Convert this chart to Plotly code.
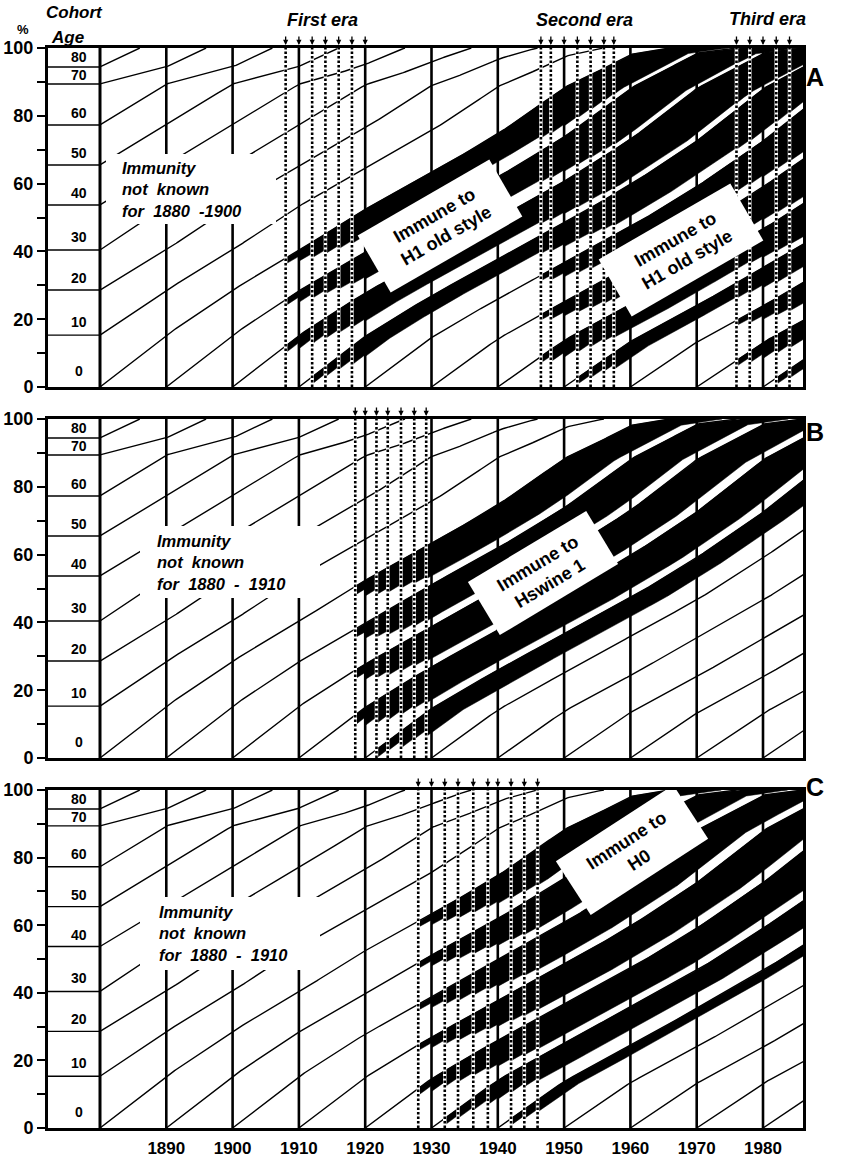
import numpy as np
import plotly.graph_objects as go

W, H = 857, 1160
LEFT_PX, RIGHT_PX = 48, 803
PANEL_TOP_PX = [48, 419, 790]
PANEL_BOTTOM_PX = [387, 758, 1128]
PX_PER_YEAR = 6.63
X0 = 1880 - (100 - LEFT_PX) / PX_PER_YEAR
X1 = 1880 + (RIGHT_PX - 100) / PX_PER_YEAR

FONT = "Liberation Sans, Arial, Helvetica, sans-serif"
NARROW = "Liberation Sans Narrow, Liberation Sans, Arial, sans-serif"

# ---------------- data ----------------
# cumulative % of the population younger than each age (early and late age structure)
AGES = [0, 10, 20, 30, 40, 50, 60, 70, 80, 86, 100]
CUM_PCT_EARLY = [0, 15.3, 28.6, 40.4, 53.7, 65.5, 77.3, 89.4, 94.4, 100, 100]
CUM_PCT_LATE = [0, 13.2, 23.8, 35.4, 46.5, 59.0, 72.5, 88.0, 98.5, 100, 100]
SHIFT_START, SHIFT_END = 1900, 1975
AGE_LABELS = ["0", "10", "20", "30", "40", "50", "60", "70", "80"]

COHORT_BIRTHS = list(range(1790, 1990, 10))
DECADE_LINES = list(range(1890, 1990, 10))
X_TICK_YEARS = list(range(1890, 1990, 10))

# epidemic years (arrows / dotted lines)
EPI_A_FIRST = [1908, 1910, 1912, 1914, 1916, 1918, 1920]
EPI_A_SECOND = [1946.5, 1948, 1950, 1952, 1954, 1956, 1957.5]
EPI_A_THIRD = [1976, 1978, 1980, 1982, 1984]
EPI_B = [1918.5, 1920, 1921.7, 1923.4, 1925.4, 1927.4, 1929.2]
EPI_C = [1928, 1930, 1932, 1934, 1936.3, 1938.5, 1940, 1942, 1944, 1946]

# fraction of a cohort made immune by each epidemic it lives through
IMMUNE_STEP_A = 0.14
IMMUNE_STEP_B = 0.20
IMMUNE_STEP_C = 0.14
FIRST_IMMUNE_COHORT = 1880


def cum_pct(t, age):
    t = np.asarray(t, float)
    a = np.clip(np.asarray(age, float), 0, 100)
    s = np.clip((t - SHIFT_START) / (SHIFT_END - SHIFT_START), 0, 1)
    w = s * s * (3 - 2 * s)
    return (1 - w) * np.interp(a, AGES, CUM_PCT_EARLY) + w * np.interp(a, AGES, CUM_PCT_LATE)


def cohort_lines():
    xs, ys = [], []
    for c in COHORT_BIRTHS:
        t = np.arange(max(c, 1880), X1 + 0.25, 0.25)
        y = cum_pct(t, t - c)
        if y[0] >= 100:
            continue
        hit = np.nonzero(y >= 100)[0]
        if len(hit):
            t, y = t[: hit[0] + 1], np.minimum(y[: hit[0] + 1], 100)
        xs += list(t) + [None]
        ys += list(y) + [None]
    # age bands of the 1880 population in the left column
    for v in CUM_PCT_EARLY[1:9]:
        xs += [X0, 1880, None]
        ys += [v, v, None]
    return xs, ys


def immune_polygons(epis, q, t_end):
    E = np.sort(np.asarray(epis, float))
    tg = np.concatenate([np.arange(E[0], t_end, 0.1), E, E - 1e-3, [t_end]])
    tg = np.unique(tg[(tg >= E[0]) & (tg <= t_end)])
    xs, ys = [], []
    for c in range(FIRST_IMMUNE_COHORT, int(E.max()) + 1, 10):
        up, lo = [], []

        def flush():
            if len(up) > 1:
                pts = up + lo[::-1]
                xs.extend([p[0] for p in pts] + [pts[0][0], None])
                ys.extend([p[1] for p in pts] + [pts[0][1], None])
            up.clear()
            lo.clear()

        for t in tg:
            bmax = min(c + 10.0, t)
            if bmax <= c:
                flush()
                continue
            b = np.linspace(c, bmax, 300)
            n = ((E[None, :] >= b[:, None]) & (E[None, :] <= t)).sum(1)
            p = 1 - (1 - q) ** n
            ok = (b - c) <= 10 * p
            bad = np.nonzero(~ok)[0]
            k = bad[0] - 1 if len(bad) else len(b) - 1
            if k < 1:
                flush()
                continue
            bs = b[k]
            yu = float(cum_pct(t, t - c))
            yl = float(cum_pct(t, t - bs))
            if yl >= 100:
                flush()
                continue
            up.append((t, min(yu, 100)))
            lo.append((t, yl))
        flush()
    return xs, ys


panels = [
    dict(name="A", epis=EPI_A_FIRST + EPI_A_SECOND + EPI_A_THIRD, q=IMMUNE_STEP_A),
    dict(name="B", epis=EPI_B, q=IMMUNE_STEP_B),
    dict(name="C", epis=EPI_C, q=IMMUNE_STEP_C),
]

fig = go.Figure()
shapes, annotations = [], []
layout = {}

for i, pn in enumerate(panels):
    ax = "" if i == 0 else str(i + 1)
    xref, yref = "x" + ax, "y" + ax
    top, bot = PANEL_TOP_PX[i], PANEL_BOTTOM_PX[i]

    cx, cy = cohort_lines()
    fig.add_trace(go.Scatter(x=cx, y=cy, mode="lines", line=dict(color="black", width=1.4),
                             xaxis=xref, yaxis=yref, hoverinfo="skip", showlegend=False))
    bx, by = immune_polygons(pn["epis"], pn["q"], X1)
    fig.add_trace(go.Scatter(x=bx, y=by, mode="lines", fill="toself", fillcolor="black",
                             line=dict(color="black", width=0.5),
                             xaxis=xref, yaxis=yref, hoverinfo="skip", showlegend=False))

    # decade grid lines
    shapes.append(dict(type="line", xref=xref, yref=yref, x0=1880, x1=1880, y0=0, y1=100,
                       line=dict(color="black", width=3)))
    for d in DECADE_LINES:
        shapes.append(dict(type="line", xref=xref, yref=yref, x0=d, x1=d, y0=0, y1=100,
                           line=dict(color="black", width=2.6)))
    # epidemic years: dotted lines and arrows
    for e in pn["epis"]:
        if min(abs(e - d) for d in DECADE_LINES) > 0.3:
            shapes.append(dict(type="line", xref=xref, yref=yref, x0=e, x1=e, y0=0, y1=100,
                               line=dict(color="white", width=3.5)))
            shapes.append(dict(type="line", xref=xref, yref=yref, x0=e, x1=e, y0=0, y1=100,
                               line=dict(color="black", width=2.6, dash="2.5px,2px")))
        annotations.append(dict(x=e, y=100, xref=xref, yref=yref, text="", showarrow=True,
                                ax=0, ay=-13, standoff=3, arrowhead=2, arrowsize=0.8,
                                arrowwidth=1.3, arrowcolor="black"))

    # age labels in the left column
    edges = CUM_PCT_EARLY[:9] + [100]
    for k, lab in enumerate(AGE_LABELS):
        lo_, hi_ = edges[k], edges[k + 1]
        h = hi_ - lo_
        yy = lo_ + (0.5 * h if h < 7 else 0.3 * h)
        annotations.append(dict(x=1876.8, y=yy, xref=xref, yref=yref, text=lab, showarrow=False,
                                font=dict(family=FONT, size=14, color="black", weight=700)))

    # panel letter
    annotations.append(dict(x=826 / W, y=1 - (top + 13) / H, xref="paper", yref="paper",
                            text=pn["name"], showarrow=False,
                            font=dict(family=FONT, size=25, color="black", weight=700)))

    layout["xaxis" + ax] = dict(domain=[LEFT_PX / W, RIGHT_PX / W], range=[X0, X1],
                                showgrid=False, zeroline=False, showline=True, linewidth=3,
                                linecolor="black", mirror=True, automargin=False,
                                ticks="outside" if i == 2 else "", ticklen=3,
                                tickcolor="rgba(0,0,0,0)",
                                tickvals=X_TICK_YEARS if i == 2 else [],
                                ticktext=[str(v) for v in X_TICK_YEARS] if i == 2 else [],
                                tickfont=dict(family=NARROW, size=17, color="black", weight=700),
                                anchor="y" + ax, fixedrange=True)
    layout["yaxis" + ax] = dict(domain=[1 - bot / H, 1 - top / H], range=[0, 100],
                                showgrid=False, zeroline=False, showline=True, linewidth=3,
                                linecolor="black", mirror=True, ticks="outside", ticklen=8,
                                tickwidth=2, tickcolor="black", automargin=False,
                                tickvals=list(range(0, 101, 10)),
                                ticktext=[str(v) if v % 20 == 0 else "" for v in range(0, 101, 10)],
                                tickfont=dict(family=FONT, size=18, color="black", weight=700),
                                anchor="x" + ax, fixedrange=True)


def px_to_data(i, px, py):
    top, bot = PANEL_TOP_PX[i], PANEL_BOTTOM_PX[i]
    return 1880 + (px - 100) / PX_PER_YEAR, (bot - py) / (bot - top) * 100


def box(i, x_a, y_a, x_b, y_b):
    ax = "" if i == 0 else str(i + 1)
    X_a, Y_a = px_to_data(i, x_a, y_a)
    X_b, Y_b = px_to_data(i, x_b, y_b)
    shapes.append(dict(type="rect", xref="x" + ax, yref="y" + ax, x0=X_a, x1=X_b, y0=Y_b, y1=Y_a,
                       fillcolor="white", line=dict(width=0), layer="above"))


def rotated_box(i, cxp, cyp, w, h, ang, text, size=18):
    ax = "" if i == 0 else str(i + 1)
    th = np.radians(ang)
    u = np.array([np.cos(th), -np.sin(th)])
    v = np.array([np.sin(th), np.cos(th)])
    c = np.array([cxp, cyp])
    corners = [c - u * w / 2 - v * h / 2, c + u * w / 2 - v * h / 2,
               c + u * w / 2 + v * h / 2, c - u * w / 2 + v * h / 2]
    pts = [px_to_data(i, p[0], p[1]) for p in corners]
    path = "M " + " L ".join(f"{x:.4f},{y:.4f}" for x, y in pts) + " Z"
    shapes.append(dict(type="path", xref="x" + ax, yref="y" + ax, path=path,
                       fillcolor="white", line=dict(width=0), layer="above"))
    X, Y = px_to_data(i, cxp, cyp)
    annotations.append(dict(x=X, y=Y, xref="x" + ax, yref="y" + ax, text=text, showarrow=False,
                            textangle=-ang, align="center",
                            font=dict(family=FONT, size=size, color="black", weight=700)))


def unknown_label(i, x_a, y_a, x_b, y_b, tx, ty, text):
    box(i, x_a, y_a, x_b, y_b)
    ax = "" if i == 0 else str(i + 1)
    X, Y = px_to_data(i, tx, ty)
    annotations.append(dict(x=X, y=Y, xref="x" + ax, yref="y" + ax, text=text,
                            showarrow=False, xanchor="left", yanchor="middle", align="left",
                            font=dict(family=FONT, size=16.5, color="black", weight=700,
                                      style="italic")))


unknown_label(0, 106, 154, 276, 224, 120, 190, "Immunity<br>not  known<br>for  1880  -1900")
unknown_label(1, 140, 526, 320, 598, 155, 562, "Immunity<br>not  known<br>for  1880  -  1910")
unknown_label(2, 140, 897, 320, 970, 157, 933, "Immunity<br>not  known<br>for  1880  -  1910")

rotated_box(0, 440, 226, 152, 66, 30, "Immune to<br>H1 old style")
rotated_box(0, 681, 250, 152, 66, 30, "Immune to<br>H1 old style")
rotated_box(1, 543, 573, 138, 62, 31, "Immune to<br>Hswine 1")
rotated_box(2, 632, 850, 140, 64, 33, "Immune to<br>H0")


# header texts
def paper_text(xp, yp, text, size, italic=True, xanchor="center"):
    annotations.append(dict(x=xp / W, y=1 - yp / H, xref="paper", yref="paper", text=text,
                            showarrow=False, xanchor=xanchor, yanchor="middle",
                            font=dict(family=FONT, size=size, color="black", weight=700,
                                      style="italic" if italic else "normal")))


paper_text(322, 20, "First era", 18)
paper_text(584, 20, "Second era", 18)
paper_text(767, 19, "Third era", 18)
paper_text(44, 13, "Cohort", 17, xanchor="left")
paper_text(49, 37, "Age", 17, xanchor="left")
paper_text(23, 29, "%", 13, italic=False)

layout.update(width=W, height=H, margin=dict(l=0, r=0, t=0, b=0, autoexpand=False),
              paper_bgcolor="white", plot_bgcolor="white", showlegend=False,
              shapes=shapes, annotations=annotations)
fig.update_layout(**layout)
fig.write_html("out.html")
